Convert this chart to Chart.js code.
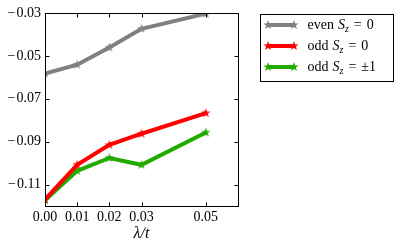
<!DOCTYPE html>
<html><head><meta charset="utf-8">
<style>html,body{margin:0;padding:0;background:#fff;}</style>
<script src="https://cdn.jsdelivr.net/npm/chart.js@4/dist/chart.umd.min.js"></script>
</head><body>
<canvas id="c" width="400" height="247" style="display:block;width:400px;height:247px"></canvas>
<script>
const lambdaValues = [0.00, 0.01, 0.02, 0.03, 0.05];
const evenSz0 = [-0.0582, -0.0541, -0.0461, -0.0374, -0.0303];
const oddSz0 = [-0.1169, -0.1008, -0.0915, -0.0863, -0.0767];
const oddSzPm1 = [-0.1173, -0.1036, -0.0976, -0.1008, -0.0857];
const xTicks = [0.00, 0.01, 0.02, 0.03, 0.05];
const yTicks = [-0.11, -0.09, -0.07, -0.05, -0.03];
const legendWords = ['even', 'odd', 'odd'];
const legendValues = ['0', '0', '\u00b11'];
const seriesColors = ['#808080', '#ff0000', '#22aa00'];

function makeStar(color, R) {
  const c = document.createElement('canvas');
  const s = Math.ceil(R * 2 + 2);
  c.width = s; c.height = s;
  const g = c.getContext('2d');
  const cx = s / 2, cy = s / 2, r = R * 0.4;
  g.beginPath();
  for (let i = 0; i < 10; i++) {
    const a = -Math.PI / 2 + i * Math.PI / 5;
    const rr = i % 2 === 0 ? R : r;
    const x = cx + rr * Math.cos(a), y = cy + rr * Math.sin(a);
    if (i === 0) g.moveTo(x, y); else g.lineTo(x, y);
  }
  g.closePath();
  g.fillStyle = color; g.fill();
  return c;
}
const stars = seriesColors.map(c => makeStar(c, 5));

function pts(ys) { return lambdaValues.map((x, i) => ({x: x, y: ys[i]})); }
const allSeries = [evenSz0, oddSz0, oddSzPm1];

const datasets = allSeries.map((ys, i) => ({
  data: pts(ys),
  borderColor: seriesColors[i],
  backgroundColor: seriesColors[i],
  borderWidth: 4,
  pointStyle: stars[i],
  pointRadius: 5,
  tension: 0,
  fill: false
}));

function fmt(v) {
  const s = Math.abs(v).toFixed(2);
  return v < -1e-9 ? '\u2212\u200a' + s : s;
}

const frameTicks = {
  id: 'frameTicks',
  afterDraw(chart) {
    const ctx = chart.ctx, a = chart.chartArea;
    const L = Math.round(a.left) + 0.5, R = Math.round(a.right) + 0.5;
    const T = Math.round(a.top) + 0.5, B = Math.round(a.bottom) + 0.5;
    ctx.save();
    ctx.strokeStyle = '#000'; ctx.lineWidth = 1;
    ctx.strokeRect(L, T, R - L, B - T);
    const xs = chart.scales.x, ys = chart.scales.y;
    ctx.beginPath();
    xTicks.forEach(v => {
      const p = Math.round(xs.getPixelForValue(v)) + 0.5;
      ctx.moveTo(p, B); ctx.lineTo(p, B - 4);
      ctx.moveTo(p, T); ctx.lineTo(p, T + 4);
    });
    yTicks.forEach(v => {
      const p = Math.round(ys.getPixelForValue(v)) + 0.5;
      ctx.moveTo(L, p); ctx.lineTo(L + 4, p);
      ctx.moveTo(R, p); ctx.lineTo(R - 4, p);
    });
    ctx.stroke();

    // x axis title
    ctx.fillStyle = '#000';
    ctx.textAlign = 'center'; ctx.textBaseline = 'alphabetic';
    ctx.font = 'italic 16px "Liberation Serif"';
    ctx.fillText('\u03bb/t', (a.left + a.right) / 2, 238);

    // legend
    const bx = 260.5, by = 14.5, bw = 133, bh = 67;
    ctx.fillStyle = '#fff';
    ctx.fillRect(bx, by, bw, bh);
    ctx.strokeStyle = '#000'; ctx.lineWidth = 1;
    ctx.strokeRect(bx, by, bw, bh);
    const rowY = [25, 46, 67];
    rowY.forEach((y, i) => {
      ctx.strokeStyle = seriesColors[i]; ctx.lineWidth = 4;
      ctx.beginPath(); ctx.moveTo(268, y); ctx.lineTo(294, y); ctx.stroke();
      const st = stars[i];
      ctx.drawImage(st, 268 - st.width / 2, y - st.height / 2);
      ctx.drawImage(st, 294 - st.width / 2, y - st.height / 2);
      ctx.fillStyle = '#000';
      ctx.textAlign = 'left'; ctx.textBaseline = 'middle';
      let x = 307.5;
      ctx.font = '14px "Liberation Serif"';
      ctx.fillText(legendWords[i], x, y);
      x += ctx.measureText(legendWords[i]).width + 4;
      ctx.font = 'italic 14px "Liberation Serif"';
      ctx.fillText('S', x, y);
      x += ctx.measureText('S').width;
      ctx.font = 'italic 10px "Liberation Serif"';
      ctx.fillText('z', x, y + 4);
      x += ctx.measureText('z').width + 5;
      ctx.font = '14px "Liberation Serif"';
      ctx.fillText('=', x, y);
      x += ctx.measureText('=').width + 5;
      ctx.fillText(legendValues[i], x, y);
    });
    ctx.restore();
  }
};

new Chart(document.getElementById('c'), {
  type: 'line',
  data: { datasets: datasets },
  options: {
    responsive: false,
    animation: false,
    devicePixelRatio: 1,
    layout: { padding: { left: 0, right: 162, top: 13, bottom: 0 } },
    plugins: { legend: { display: false }, tooltip: { enabled: false } },
    scales: {
      x: {
        type: 'linear', min: 0, max: 0.06,
        afterBuildTicks: s => { s.ticks = xTicks.map(v => ({value: v})); },
        afterFit: s => { s.height = 41; },
        grid: { display: false, drawTicks: false },
        border: { display: false },
        ticks: { color: '#000', font: { family: 'Liberation Serif', size: 14 }, padding: 3, maxRotation: 0, autoSkip: false,
                 callback: v => fmt(v) }
      },
      y: {
        type: 'linear', min: -0.12, max: -0.03,
        afterBuildTicks: s => { s.ticks = yTicks.map(v => ({value: v})); },
        afterFit: s => { s.width = 45; },
        grid: { display: false, drawTicks: false },
        border: { display: false },
        ticks: { color: '#000', font: { family: 'Liberation Serif', size: 14 }, padding: 4, autoSkip: false,
                 callback: v => fmt(v) }
      }
    }
  },
  plugins: [frameTicks]
});
</script>
</body></html>
